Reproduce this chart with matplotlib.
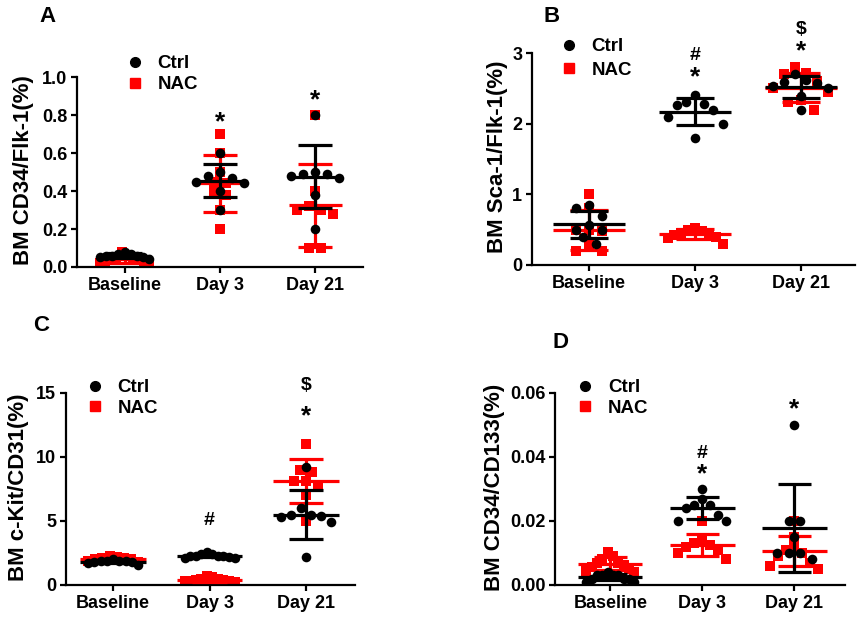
import numpy as np
import matplotlib
matplotlib.use('Agg')
from matplotlib import pyplot as plt
from matplotlib.lines import Line2D

plt.rcParams['font.family'] = ['Liberation Sans', 'DejaVu Sans']
plt.rcParams['font.weight'] = 'bold'

days = ['Baseline', 'Day 3', 'Day 21']
groups = ['Ctrl', 'NAC']

# A: BM CD34/Flk-1 (%)
a_ctrl = [[0.08, 0.07, 0.07, 0.06, 0.06, 0.06, 0.05, 0.05, 0.04],
          [0.60, 0.50, 0.48, 0.47, 0.45, 0.44, 0.40, 0.30],
          [0.80, 0.50, 0.49, 0.49, 0.48, 0.47, 0.38, 0.20]]
a_nac = [[0.08, 0.06, 0.05, 0.05, 0.04, 0.04, 0.03, 0.03, 0.02, 0.02],
         [0.70, 0.60, 0.50, 0.45, 0.44, 0.40, 0.38, 0.30, 0.20],
         [0.80, 0.40, 0.32, 0.30, 0.30, 0.28, 0.10, 0.10]]
a_sig = [[], ['*'], ['*']]

# B: BM Sca-1/Flk-1 (%)
b_ctrl = [[0.85, 0.80, 0.70, 0.56, 0.50, 0.50, 0.39, 0.30],
          [2.40, 2.30, 2.28, 2.27, 2.20, 2.10, 2.00, 1.80],
          [2.70, 2.62, 2.59, 2.57, 2.54, 2.50, 2.39, 2.20]]
b_nac = [[1.00, 0.81, 0.50, 0.50, 0.48, 0.30, 0.20, 0.20],
         [0.53, 0.50, 0.48, 0.45, 0.44, 0.43, 0.40, 0.38, 0.30],
         [2.80, 2.72, 2.70, 2.60, 2.50, 2.45, 2.33, 2.30, 2.20]]
b_sig = [[], ['#', '*'], ['$', '*']]

# C: BM c-Kit/CD31 (%)
c_ctrl = [[2.0, 1.9, 1.9, 1.85, 1.85, 1.8, 1.8, 1.7, 1.6],
          [2.6, 2.4, 2.4, 2.3, 2.3, 2.3, 2.3, 2.2, 2.1, 2.1],
          [9.2, 6.0, 5.5, 5.5, 5.4, 5.3, 4.9, 2.2]]
c_nac = [[2.3, 2.2, 2.1, 2.1, 2.0, 2.0, 1.9, 1.8],
         [0.7, 0.6, 0.5, 0.5, 0.4, 0.4, 0.3, 0.3, 0.3, 0.2],
         [11.0, 9.0, 8.8, 8.15, 8.1, 7.85, 7.0, 5.0]]
c_sig = [[], ['#'], ['$', '*']]

# D: BM CD34/CD133 (%)
d_ctrl = [[0.004, 0.003, 0.003, 0.003, 0.003, 0.002, 0.002, 0.002, 0.001, 0.001],
          [0.030, 0.027, 0.025, 0.025, 0.024, 0.022, 0.020, 0.020],
          [0.050, 0.020, 0.020, 0.015, 0.010, 0.010, 0.010, 0.008]]
d_nac = [[0.0102, 0.009, 0.008, 0.007, 0.0068, 0.0062, 0.0055, 0.005, 0.0045, 0.004],
         [0.020, 0.0136, 0.013, 0.0125, 0.012, 0.011, 0.010, 0.008],
         [0.020, 0.015, 0.012, 0.011, 0.010, 0.009, 0.007, 0.006, 0.005]]
d_sig = [[], ['#', '*'], ['*']]


def swarm(vals, center, yrange, step=0.125, maxhalf=0.26):
    # spread points with close values side by side (prism-like)
    vals = np.asarray(vals, dtype=float)
    order = np.argsort(-vals, kind='stable')
    thr = 0.035 * yrange
    rows = []
    for i in order:
        if rows and vals[rows[-1][-1]] - vals[i] < thr:
            rows[-1].append(i)
        else:
            rows.append([i])
    x = np.full(len(vals), float(center))
    for r in rows:
        n = len(r)
        if n == 1:
            continue
        s = step if (n - 1) * step / 2 <= maxhalf else 2 * maxhalf / (n - 1)
        offs = (np.arange(n) - (n - 1) / 2) * s
        offs = offs[np.argsort(np.abs(offs), kind='stable')]
        for k, i in enumerate(r):
            x[i] = center + offs[k]
    return x


def panel(ax, ctrl, nac, sig, ylim, yticks, fmt, ylabel, xlim, meanw, sigy,
          labx, legxy, legsp):
    yr = ylim[1] - ylim[0]
    for vals, col, mk, z in [(nac, 'red', 's', 2), (ctrl, 'black', 'o', 4)]:
        for j in range(3):
            v = np.asarray(vals[j])
            xs = swarm(v, j, yr)
            ax.scatter(xs, v, marker=mk, s=48 if mk == 'o' else 44, color=col,
                       lw=0, zorder=z)
            m = v.mean()
            sd = v.std(ddof=1)
            ax.hlines(m, j - meanw, j + meanw, color=col, lw=2.3, zorder=z + 1)
            ax.hlines([m - sd, m + sd], j - 0.18, j + 0.18, color=col, lw=2.3, zorder=z + 1)
            ax.vlines(j, m - sd, m + sd, color=col, lw=2.3, zorder=z + 1)
    for j in range(3):
        for sym, yy in zip(sig[j], sigy[j]):
            if sym == '*':
                ax.text(j, yy, sym, ha='center', va='center', fontsize=19,
                        fontweight='bold', clip_on=False)
            else:
                ax.text(j, yy, sym, ha='center', va='center', fontsize=14,
                        fontweight='bold', clip_on=False)
    ax.set_xlim(*xlim)
    ax.set_ylim(*ylim)
    ax.set_xticks(range(3))
    ax.set_xticklabels(days)
    ax.set_yticks(yticks)
    ax.set_yticklabels([fmt.format(t) for t in yticks])
    for s in ['top', 'right']:
        ax.spines[s].set_visible(False)
    for s in ['left', 'bottom']:
        ax.spines[s].set_linewidth(1.6)
    ax.tick_params(direction='out', length=4, width=1.6, labelsize=13, pad=3)
    ax.set_ylabel(ylabel, fontsize=16, fontweight='bold')
    ax.yaxis.set_label_coords(labx, 0.51)
    h = [Line2D([], [], marker='o', color='black', ls='none', markersize=7),
         Line2D([], [], marker='s', color='red', ls='none', markersize=6.5)]
    ax.legend(h, groups, loc='center left', bbox_to_anchor=legxy,
              frameon=False, handlelength=1, handletextpad=0.7,
              borderpad=0, borderaxespad=0, labelspacing=legsp,
              prop={'size': 13.5, 'weight': 'bold'})


fig = plt.figure(figsize=(8.64, 6.18), dpi=100)
axA = fig.add_axes([0.0891, 0.568, 0.331, 0.307])
axB = fig.add_axes([0.6157, 0.5712, 0.3738, 0.343])
axC = fig.add_axes([0.0764, 0.0534, 0.3345, 0.3107])
axD = fig.add_axes([0.6424, 0.0534, 0.3356, 0.3107])

panel(axA, a_ctrl, a_nac, a_sig, (0, 1.0), np.arange(0, 1.01, 0.2), '{:.1f}',
      'BM CD34/Flk-1(%)', (-0.5, 2.5), 0.28, [[], [0.76], [0.88]],
      -0.150, (0.17, 1.016), 0.2)
panel(axB, b_ctrl, b_nac, b_sig, (0, 3), [0, 1, 2, 3], '{:d}',
      'BM Sca-1/Flk-1(%)', (-0.54, 2.51), 0.34, [[], [2.96, 2.66], [3.33, 3.02]],
      -0.075, (0.085, 0.974), 0.35)
panel(axC, c_ctrl, c_nac, c_sig, (0, 15), [0, 5, 10, 15], '{:d}',
      'BM c-Kit/CD31(%)', (-0.49, 2.51), 0.34, [[], [5.0], [15.6, 13.2]],
      -0.128, (0.068, 0.974), 0.2)
panel(axD, d_ctrl, d_nac, d_sig, (0, 0.06), [0, 0.02, 0.04, 0.06], '{:.2f}',
      'BM CD34/CD133(%)', (-0.6, 2.55), 0.35, [[], [0.041, 0.0345], [0.0550]],
      -0.172, (0.072, 0.974), 0.2)

for lab, x, y in [('A', 47, 17), ('B', 552, 17), ('C', 41, 326), ('D', 560, 342)]:
    fig.text(x / 864, 1 - y / 618, lab, ha='center', va='center',
             fontsize=16, fontweight='bold')

fig.savefig('out.png', dpi=100)
